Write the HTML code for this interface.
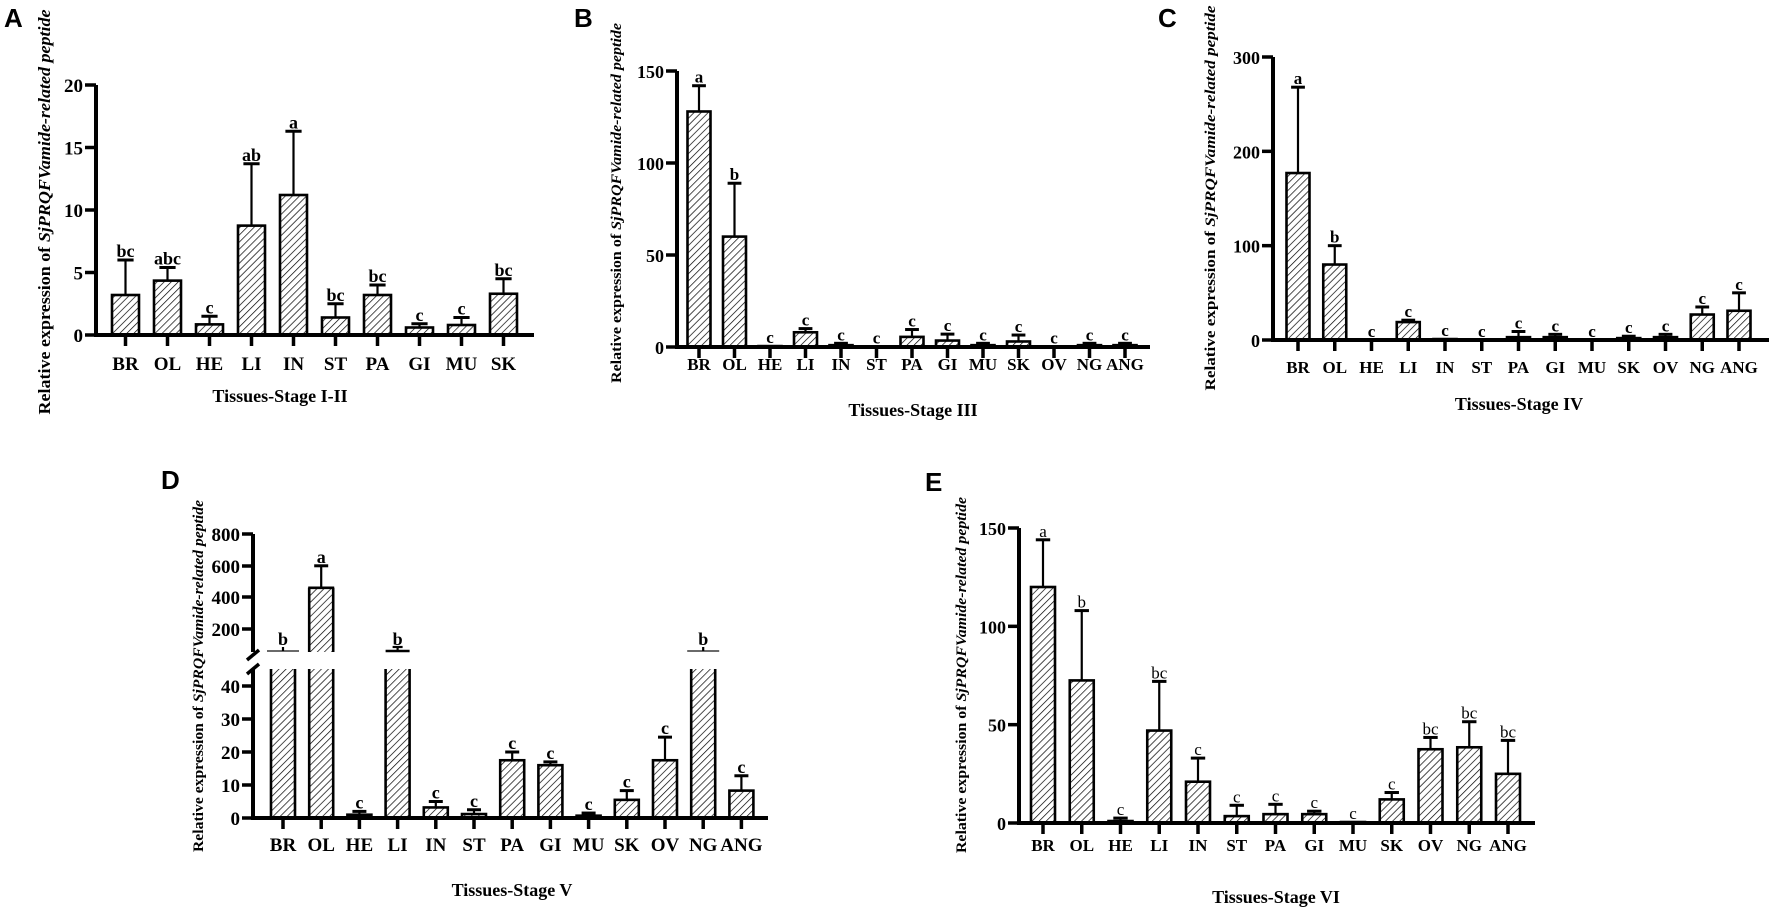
<!DOCTYPE html>
<html><head><meta charset="utf-8">
<style>
html,body{margin:0;padding:0;background:#fff;}
svg{display:block;}
.pl{font-family:"Liberation Sans",sans-serif;font-weight:bold;font-size:26px;}
</style></head>
<body>
<svg id="s" width="1772" height="909" xmlns="http://www.w3.org/2000/svg">
<defs>
<pattern id="h" patternUnits="userSpaceOnUse" width="5" height="5" patternTransform="rotate(45)">
<rect width="5" height="5" fill="#fff"/>
<line x1="0" y1="0" x2="0" y2="5" stroke="#000" stroke-width="1.4"/>
</pattern>
</defs>
<text class="pl" x="4" y="27">A</text>
<text class="pl" x="574" y="27">B</text>
<text class="pl" x="1158" y="27">C</text>
<text class="pl" x="161" y="489">D</text>
<text class="pl" x="925" y="491">E</text>
</svg>
<script>
var S=document.getElementById('s');var NS='http://www.w3.org/2000/svg';
function el(t,a,tx){var e=document.createElementNS(NS,t);for(var k in a)e.setAttribute(k,a[k]);if(tx!==undefined)e.textContent=tx;S.appendChild(e);return e;}
function line(x1,y1,x2,y2,w,c){el('line',{x1:x1,y1:y1,x2:x2,y2:y2,stroke:c||'#000','stroke-width':w});}
function txt(x,y,s,size,anchor,bold){return el('text',{x:x,y:y,'font-size':size,'text-anchor':anchor||'middle','font-family':'"Liberation Serif",serif','font-weight':bold===false?'normal':'bold'},s);}
function ytitle(x,yc,size,len){var g=el('text',{x:0,y:0,'font-size':size,'font-family':'"Liberation Serif",serif','font-weight':'bold','text-anchor':'middle',transform:'translate('+x+','+yc+') rotate(-90)',textLength:len,lengthAdjust:'spacingAndGlyphs'});
 g.appendChild(document.createTextNode('Relative expression of '));var t=document.createElementNS(NS,'tspan');t.setAttribute('font-style','italic');t.textContent='SjPRQFVamide-related peptide';g.appendChild(t);}
function panel(p){
 var Y=function(v){return p.y0-v*p.k;};
 p.vals.forEach(function(v,i){var cx=p.x0+i*p.dx, w=p.w;
  var e=p.errs[i];
  if(e>v){line(cx,Y(e),cx,Y(v),2.2);line(cx-w*0.3,Y(e),cx+w*0.3,Y(e),3);}
  if(v>0){el('rect',{x:cx-w/2,y:Y(v),width:w,height:p.y0-Y(v),fill:'url(#h)',stroke:'#000','stroke-width':2.6});}
  var top=Math.min(Y(e),Y(v));
  txt(cx,top-3,p.lt[i],p.lfs,'middle',p.lb);
  line(cx,p.y0,cx,p.y0+11,3.5);
  txt(cx,p.ly,p.labs[i],p.xfs,'middle',p.xb);
 });
 line(p.ax,p.y0,p.xend,p.y0,4);
 line(p.ax,p.y0+2,p.ax,Y(p.tmax),4);
 p.ticks.forEach(function(t){line(p.ax-11,Y(t),p.ax,Y(t),3.5);txt(p.ax-13,Y(t)+7,String(t),p.tfs,'end',p.tb);});
 txt(p.tx,p.ty,p.title,p.tifs,'middle',true);
}
var L10=['BR','OL','HE','LI','IN','ST','PA','GI','MU','SK'];
var L13=['BR','OL','HE','LI','IN','ST','PA','GI','MU','SK','OV','NG','ANG'];
panel({ax:96,y0:335,k:12.5,tmax:20,ticks:[0,5,10,15,20],xend:534,x0:125.5,dx:42,w:27,
 vals:[3.2,4.35,0.85,8.75,11.2,1.4,3.2,0.6,0.8,3.3],errs:[6,5.4,1.5,13.7,16.3,2.5,4,0.9,1.4,4.5],
 lt:['bc','abc','c','ab','a','bc','bc','c','c','bc'],labs:L10,ly:370,lfs:18,lb:true,xfs:19,xb:true,tfs:19,tb:true,
 title:'Tissues-Stage I-II',tx:280,ty:402,tifs:18});
ytitle(50,212,17,405);
panel({ax:677,y0:347,k:276/150,tmax:150,ticks:[0,50,100,150],xend:1150,x0:699,dx:35.5,w:23,
 vals:[128,60,0.5,8,1,0.3,5.5,3.5,1,3,0.3,1,1],errs:[142,89,0.5,10,2,0.3,9.5,7,2,6.5,0.3,2,2],
 lt:['a','b','c','c','c','c','c','c','c','c','c','c','c'],labs:L13,ly:370,lfs:17,lb:true,xfs:17,xb:true,tfs:18,tb:true,
 title:'Tissues-Stage III',tx:913,ty:416,tifs:18});
ytitle(621,203,15,360);
panel({ax:1273,y0:340,k:283/300,tmax:300,ticks:[0,100,200,300],xend:1769,x0:1298,dx:36.75,w:23,
 vals:[177,80,0,19,1,0,3,3,0,2,3,27,31],errs:[268,100,0,21,1,0,9,6,0,4,6,35,50],
 lt:['a','b','c','c','c','c','c','c','c','c','c','c','c'],labs:L13,ly:373,lfs:17,lb:true,xfs:17,xb:true,tfs:18,tb:true,
 title:'Tissues-Stage IV',tx:1519,ty:410,tifs:18});
ytitle(1215,198,15,385);
(function(){
 var ax=253,y0=818,k=3.3,x0=283,dx=38.2,w=24;
 var YL=function(v){return y0-v*k;}, YU=function(v){return 660-v*0.157;};
 var vals=[60,460,1,60,3.2,1.2,17.5,16,0.7,5.5,17.5,60,8.3], errs=[60,600,2,62,5,2.5,20,17,1.5,8.3,24.5,62,12.8];
 var big=[0,1,3,11];
 var lt=['b','a','c','b','c','c','c','c','c','c','c','b','c'];
 vals.forEach(function(v,i){var cx=x0+i*dx;
  if(big.indexOf(i)>=0){
   el('rect',{x:cx-w/2,y:669,width:w,height:y0-669,fill:'url(#h)'});
   line(cx-w/2,669,cx-w/2,y0,2.6);line(cx+w/2,669,cx+w/2,y0,2.6);
   if(i===1){el('rect',{x:cx-w/2,y:YU(v),width:w,height:652-YU(v),fill:'url(#h)'});
     line(cx-w/2,652,cx-w/2,YU(v),2.6);line(cx+w/2,652,cx+w/2,YU(v),2.6);line(cx-w/2-1,YU(v),cx+w/2+1,YU(v),2.6);
     line(cx,YU(v),cx,YU(600),2.2);line(cx-7,YU(600),cx+7,YU(600),3);txt(cx,YU(600)-3,'a',18,'middle',true);}
   else{var ext=(i===0||i===11)?4:0;line(cx-w/2-ext,651,cx+w/2+ext,651,i===3?2.5:1.8,i===3?'#000':'#555');
     line(cx,651,cx,647,2.2);if(i===3)line(cx-5,647,cx+5,647,2.2);txt(cx,645,'b',18,'middle',true);}
  } else {
   var e=errs[i];
   if(e>v){line(cx,YL(e),cx,YL(v),2.2);line(cx-7,YL(e),cx+7,YL(e),3);}
   el('rect',{x:cx-w/2,y:YL(v),width:w,height:y0-YL(v),fill:'url(#h)',stroke:'#000','stroke-width':2.6});
   txt(cx,Math.min(YL(e),YL(v))-3,lt[i],18,'middle',true);
  }
  line(cx,y0,cx,y0+11,3.5);
  txt(cx,851,L13[i],19,'middle',true);
 });
 line(ax,y0,768,y0,4);
 line(ax,y0+2,ax,669,4);line(ax,652,ax,534,4);
 line(ax-6,660,ax+6,650,3.5);line(ax-6,674,ax+6,664,3.5);
 [0,10,20,30,40].forEach(function(t){line(ax-11,YL(t),ax,YL(t),3.5);txt(ax-13,YL(t)+7,String(t),19,'end',true);});
 [[200,629],[400,597],[600,566],[800,534]].forEach(function(a){line(ax-11,a[1],ax,a[1],3.5);txt(ax-13,a[1]+7,String(a[0]),19,'end',true);});
 txt(512,896,'Tissues-Stage V',18,'middle',true);
 ytitle(203,676,15,352);
})();
panel({ax:1019,y0:823,k:295/150,tmax:150,ticks:[0,50,100,150],xend:1535,x0:1043,dx:38.75,w:24,
 vals:[120,72.5,1,47,21,3.5,4.5,4.5,0.5,12,37.5,38.5,25],errs:[144,108,2.5,72,33,9,9.5,6,0.5,15.5,43.5,51.5,42],
 lt:['a','b','c','bc','c','c','c','c','c','c','bc','bc','bc'],labs:L13,ly:851,lfs:17,lb:false,xfs:17,xb:true,tfs:18,tb:true,
 title:'Tissues-Stage VI',tx:1276,ty:903,tifs:18});
ytitle(966,675,15,356);
</script>
</body></html>
